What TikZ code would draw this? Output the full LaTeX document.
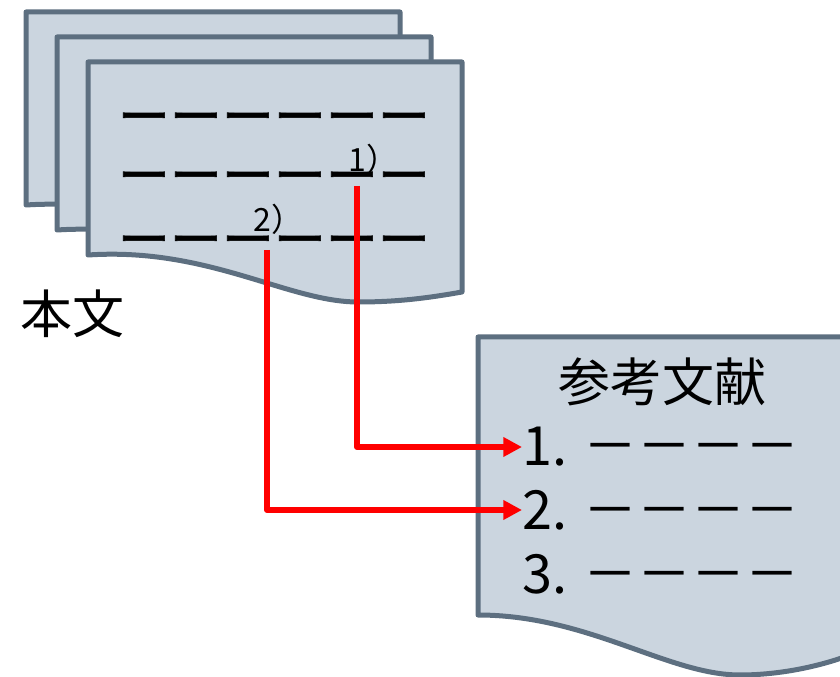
\documentclass[tikz,border=0pt]{standalone}
\usepackage{fontspec}
\setmainfont{Noto Sans CJK JP}
\newfontfamily\rowfont[FakeBold=1.2]{Noto Sans CJK JP}
\usetikzlibrary{arrows.meta,positioning}

\definecolor{sheetedge}{HTML}{5D6F80}
\definecolor{sheetfill}{HTML}{CBD5DF}

\tikzset{
sheet/.style={draw=sheetedge, fill=sheetfill, line width=3.75pt, line join=round},
bodytext/.style={font=\fontsize{39}{40}\selectfont, inner sep=0pt},
dashrow/.style={font=\rowfont\fontsize{39}{40}\selectfont, inner sep=0pt},
refmark/.style={font=\fontsize{24}{25}\selectfont, inner sep=0pt, anchor=west},
listitem/.style={font=\fontsize{40.5}{41}\selectfont, inner sep=0pt, anchor=west},
link/.style={draw=red, line width=4.5pt, line join=round, -{Triangle[length=14pt,width=14pt]}}
}

\begin{document}
\begin{tikzpicture}[%
x=0.75pt,
y=-0.75pt
]
\path[use as bounding box, clip] (0,0) rectangle (840,677);

% stacked pages of the body text
\foreach \dx/\dy in {26/12, 57/37, 88/62}
  \draw[sheet, shift={(\dx,\dy)}] (0,0) -- (374,0) -- (374,230)
    .. controls (340,236) and (310,240) .. (270,240)
    .. controls (200,240) and (120,185) .. (0,193) -- cycle;

% reference list page
\draw[sheet] (478,337) -- (850,337) -- (850,655)
  .. controls (818,667) and (778,675) .. (740,675)
  .. controls (668,675) and (588,615) .. (478,615) -- cycle;

\node[dashrow] (row1) at (274,124) {ーーーーーー};
\node[dashrow] (row2) at (274,183) {ーーーーーー};
\node[dashrow] (row3) at (274,247) {ーーーーーー};
\node[refmark] (mark1) at (348,159) {1）};
\node[refmark] (mark2) at (253,219) {2）};

\node[bodytext] (body) at (73,314) {本文};
\node[bodytext] (reftitle) at (662,382) {参考文献};
\node[listitem] (item1) at (522,447) {1. －－－－};
\node[listitem] (item2) at (522,510) {2. －－－－};
\node[listitem] (item3) at (522,574) {3. －－－－};

% citation links
\coordinate (from1) at (357,186);
\coordinate (from2) at (267,250);
\draw[link] (from1) |- (item1.west);
\draw[link] (from2) |- (item2.west);
\end{tikzpicture}
\end{document}
